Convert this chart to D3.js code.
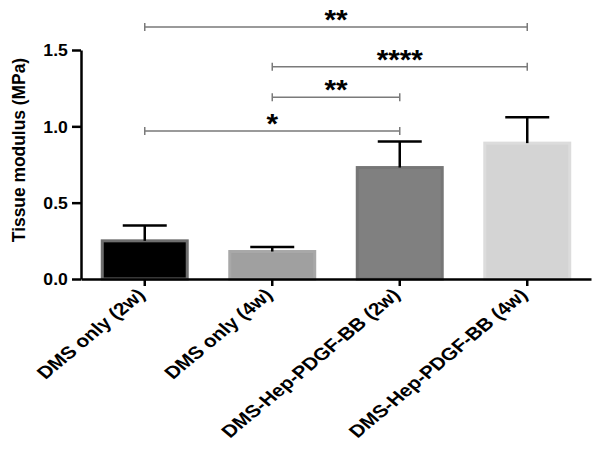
<!DOCTYPE html>
<html>
<head>
<meta charset="utf-8">
<script src="https://cdn.jsdelivr.net/npm/d3@7"></script>
<style>
  body { margin: 0; background: #fff; }
  svg { display: block; }
  text { font-family: "Liberation Sans", Arial, sans-serif; font-weight: bold; }
</style>
</head>
<body>
<svg id="chart" width="602" height="450"></svg>
<script>
const categories = ["DMS only (2w)", "DMS only (4w)", "DMS-Hep-PDGF-BB (2w)", "DMS-Hep-PDGF-BB (4w)"];
const means = [0.25, 0.18, 0.73, 0.89];
const errors = [0.10, 0.03, 0.17, 0.17];
const yTicks = [0, 0.5, 1.0, 1.5];
const sigPairs = [[0, 3], [1, 3], [1, 2], [0, 2]];
const sigLabels = ["**", "****", "**", "*"];
const sigLevels = [1.65, 1.39, 1.19, 0.97];
const yTitle = "Tissue modulus (MPa)";

const fills = ["#000000", "#a0a0a0", "#808080", "#d4d4d4"];
const strokes = ["#6e6e6e", "#a8a8a8", "#767676", "#dcdcdc"];

const svg = d3.select("#chart");
const x = d3.scaleBand().domain(categories).range([81, 591]).paddingInner(0.31).paddingOuter(0.155);
const y = d3.scaleLinear().domain([0, 1.5]).range([279, 50]);

// bars
svg.append("g").selectAll("rect").data(categories).join("rect")
  .attr("x", (d) => x(d) + 1.5)
  .attr("width", x.bandwidth() - 3)
  .attr("y", (d, i) => y(means[i]))
  .attr("height", (d, i) => y(0) - y(means[i]))
  .attr("fill", (d, i) => fills[i])
  .attr("stroke", (d, i) => strokes[i])
  .attr("stroke-width", 3);

// error bars (upper only)
const eg = svg.append("g").attr("stroke", "#000").attr("stroke-width", 2.5);
categories.forEach((c, i) => {
  const cx = x(c) + x.bandwidth() / 2;
  const cap = x.bandwidth() / 4;
  eg.append("line").attr("x1", cx).attr("x2", cx).attr("y1", y(means[i])).attr("y2", y(means[i] + errors[i]));
  eg.append("line").attr("x1", cx - cap).attr("x2", cx + cap).attr("y1", y(means[i] + errors[i])).attr("y2", y(means[i] + errors[i]));
});

// axes
const yAxis = svg.append("g").attr("transform", "translate(81,0)")
  .call(d3.axisLeft(y).tickValues(yTicks).tickFormat(d3.format(".1f")).tickSize(9).tickSizeOuter(0));
const xAxis = svg.append("g").attr("transform", "translate(0,279)")
  .call(d3.axisBottom(x).tickSize(7).tickSizeOuter(0));
[yAxis, xAxis].forEach(a => {
  a.selectAll("path, line").attr("stroke", "#000").attr("stroke-width", 2.5);
  a.selectAll("text").attr("fill", "#000").style("font-weight", "bold");
});
yAxis.selectAll("text").style("font-size", "16px")
  .attr("x", -12).attr("dy", "0.36em")
  .attr("transform", "scale(1.1,1)");
xAxis.selectAll("text")
  .style("font-size", "17.4px")
  .attr("text-anchor", "end")
  .attr("transform", "translate(1.5,17) scale(1.2,1) rotate(-45)")
  .attr("x", 0).attr("y", 0).attr("dy", "0");

// axis title
svg.append("text")
  .attr("transform", "translate(24.5,150) scale(1.1,1) rotate(-90)")
  .attr("text-anchor", "middle")
  .style("font-size", "17.4px")
  .text(yTitle);

// significance brackets
const sg = svg.append("g");
sigPairs.forEach((p, i) => {
  const x1 = x(categories[p[0]]) + x.bandwidth() / 2;
  const x2 = x(categories[p[1]]) + x.bandwidth() / 2;
  const ly = y(sigLevels[i]);
  const path = `M${x1},${ly - 4}V${ly + 4}M${x1},${ly}H${x2}M${x2},${ly - 4}V${ly + 4}`;
  sg.append("path").attr("d", path).attr("fill", "none").attr("stroke", "#7a7a7a").attr("stroke-width", 1.5);
  sg.append("text")
    .attr("transform", `translate(${(x1 + x2) / 2},${ly + 2}) scale(1.1,1)`)
    .attr("text-anchor", "middle")
    .style("font-size", "27px")
    .text(sigLabels[i]);
});
</script>
</body>
</html>
